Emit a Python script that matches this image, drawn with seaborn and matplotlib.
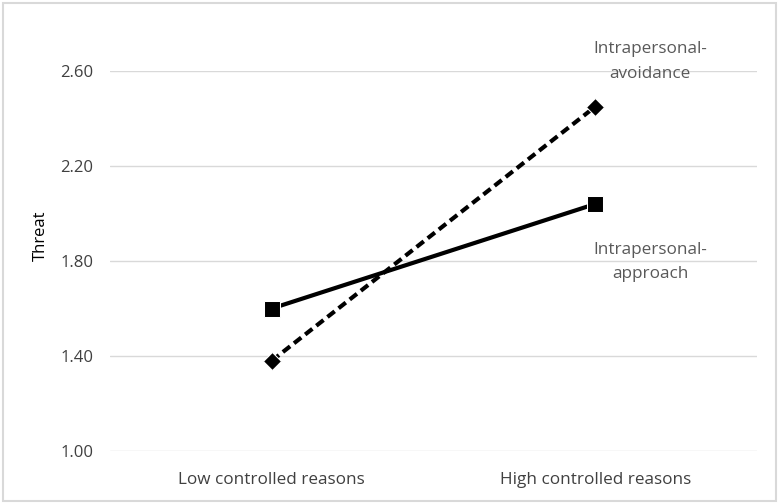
import matplotlib.pyplot as plt
import pandas as pd
import seaborn as sns
from matplotlib.patches import Rectangle

conditions = ["Low controlled reasons", "High controlled reasons"]
approach = [1.60, 2.04]
avoidance = [1.38, 2.45]
series_names = ["Intrapersonal-\napproach", "Intrapersonal-\navoidance"]
y_ticks = [1.00, 1.40, 1.80, 2.20, 2.60]

df = pd.DataFrame({
    "condition": conditions * 2,
    "threat": approach + avoidance,
    "series": [series_names[0]] * 2 + [series_names[1]] * 2,
})

sns.set_style("white")
plt.rcParams["font.family"] = ["Open Sans", "DejaVu Sans"]
text_color = "#404040"
fs = 12.3

fig = plt.figure(figsize=(7.79, 5.03), dpi=100)
ax = fig.add_axes([110 / 779, 1 - 451 / 503, 647 / 779, 380 / 503])

sns.lineplot(
    data=df, x="condition", y="threat", hue="series", style="series",
    palette=["black", "black"],
    markers={series_names[0]: "s", series_names[1]: "D"},
    dashes={series_names[0]: "", series_names[1]: (2.2, 1.2)},
    markersize=11, linewidth=3, ax=ax, legend=False, sort=False,
)
# smaller diamond marker
for line in ax.get_lines():
    if line.get_marker() == "D":
        line.set_markersize(9.5)

ax.set_xlim(-0.5, 1.5)
ax.set_ylim(1.0, 2.6)
ax.set_yticks(y_ticks)
ax.set_yticklabels([f"{v:.2f}" for v in y_ticks], fontsize=fs - 0.3, color=text_color)
ax.tick_params(axis="x", labelsize=fs, colors=text_color, pad=15, length=0)
ax.tick_params(axis="y", length=0, pad=12)
ax.grid(axis="y", color="#D9D9D9", linewidth=1)
ax.set_axisbelow(True)
for s in ax.spines.values():
    s.set_visible(False)
ax.set_xlabel("")
ax.set_ylabel("Threat", fontsize=fs - 0.3, color="black")
ax.yaxis.set_label_coords(-0.095, 0.566)

ax.text(1.17, 2.64, series_names[1], ha="center", va="center", fontsize=fs,
        color="#595959", linespacing=1.7, clip_on=False)
ax.text(1.17, 1.795, series_names[0], ha="center", va="center",
        fontsize=fs, color="#595959", linespacing=1.7, clip_on=False)

fig.patches.append(Rectangle((0.004, 0.004), 0.992, 0.99, transform=fig.transFigure,
                             fill=False, edgecolor="#D9D9D9", linewidth=1.5))

fig.savefig("out.png", dpi=100)
